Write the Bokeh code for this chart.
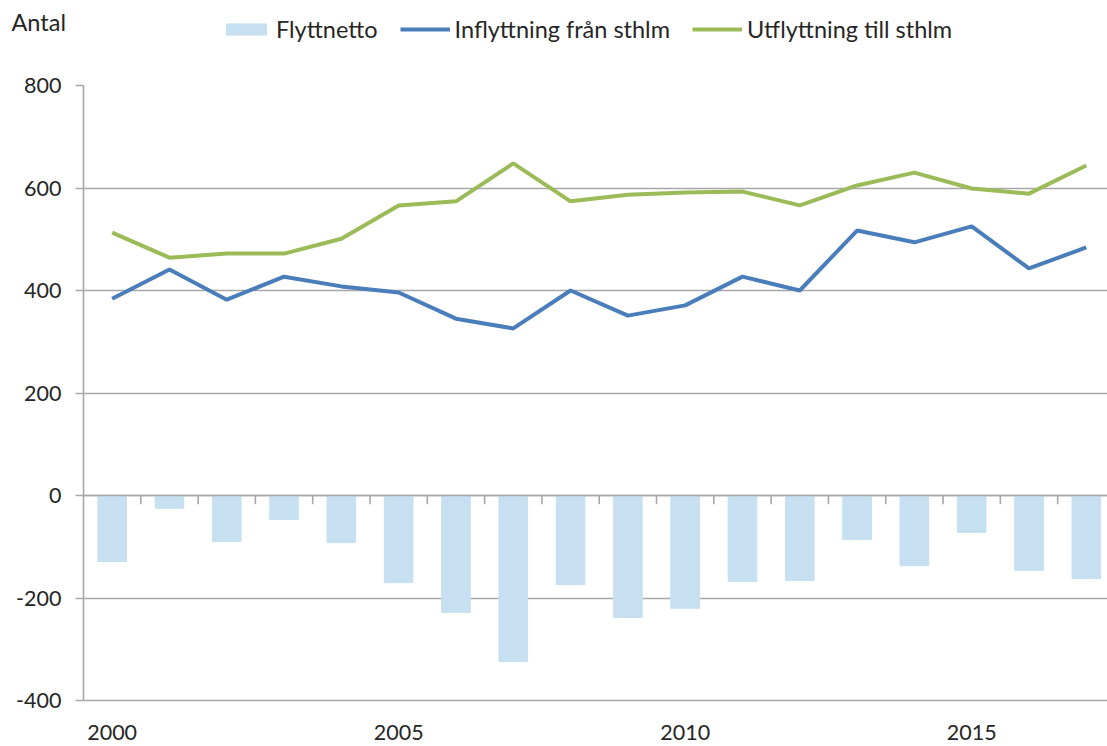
from bokeh.plotting import figure
from bokeh.layouts import column
from bokeh.models import Range1d, Legend, LegendItem, FixedTicker, ColumnDataSource, Span, PrintfTickFormatter, Label
from bokeh.embed import file_html
from bokeh.resources import INLINE

years = list(range(2000, 2018))
inflyttning = [384, 441, 382, 427, 408, 396, 345, 326, 400, 351, 371, 427, 400, 517, 494, 525, 443, 484]
utflyttning = [513, 464, 472, 472, 501, 566, 574, 648, 574, 587, 591, 593, 566, 605, 630, 599, 589, 644]
flyttnetto = [-129, -25, -90, -47, -92, -170, -228, -324, -174, -238, -220, -168, -166, -86, -137, -72, -146, -162]
y_ticks = [-400, -200, 0, 200, 400, 600, 800]
x_ticks = [2000, 2005, 2010, 2015]
series_names = ["Flyttnetto", "Inflyttning från sthlm", "Utflyttning till sthlm"]
unit_label = "Antal"

FONT = "Lato"
TXT = "#262626"
GRID = "#a8a8a8"
BAR = "#c6e0f1"
BLUE = "#4a7ebb"
GREEN = "#9bbb59"

W = 1107
TOP_H = 73
MAIN_H = 746 - TOP_H

src = ColumnDataSource(dict(x=years, inn=inflyttning, ut=utflyttning, net=flyttnetto))

# ---- header strip (unit label + legend) ----
top = figure(width=W, height=TOP_H, output_backend="svg", toolbar_location=None,
             x_range=Range1d(0, W), y_range=Range1d(0, TOP_H),
             x_axis_type=None, y_axis_type=None,
             min_border_left=0, min_border_right=0, min_border_top=0, min_border_bottom=0)
top.outline_line_color = None
top.background_fill_color = "white"
# legend proxies: same data, lying outside this strip's visible range
r_bar = top.vbar(x="x", top="net", bottom=0, width=0.5, source=src, fill_color=BAR, line_color=BAR)
r_in = top.line(x="x", y="inn", source=src, line_color=BLUE, line_width=4)
r_ut = top.line(x="x", y="ut", source=src, line_color=GREEN, line_width=4)

legend = Legend(items=[LegendItem(label=series_names[0], renderers=[r_bar]),
                       LegendItem(label=series_names[1], renderers=[r_in]),
                       LegendItem(label=series_names[2], renderers=[r_ut])],
                orientation="horizontal", location=(221, 30),
                label_text_font=FONT, label_text_font_size="23.5px", label_text_color=TXT,
                glyph_width=50, glyph_height=14, label_standoff=5, spacing=22,
                padding=0, margin=0, border_line_color=None, background_fill_alpha=0)
top.add_layout(legend, "center")
top.add_layout(Label(x=11, y=52, x_units="screen", y_units="screen", text=unit_label,
                     text_baseline="alphabetic", text_font=FONT, text_font_size="23.5px",
                     text_color=TXT))

# ---- main chart ----
p = figure(width=W, height=MAIN_H, output_backend="svg", toolbar_location=None,
           x_range=Range1d(1999.5, 2017.37), y_range=Range1d(-400, 800),
           min_border_left=83, min_border_top=12, min_border_bottom=46, min_border_right=0)
p.outline_line_color = None
p.background_fill_color = "white"

for fig in (top, p):
    try:
        fig.frame_align = False
    except Exception:
        pass

p.xgrid.grid_line_color = None
p.ygrid.grid_line_color = GRID
p.ygrid.grid_line_width = 1.6
p.ygrid.ticker = FixedTicker(ticks=y_ticks)

p.yaxis.ticker = FixedTicker(ticks=y_ticks)
p.yaxis.formatter = PrintfTickFormatter(format="%d")
p.yaxis.axis_line_color = GRID
p.yaxis.axis_line_width = 1.6
p.yaxis.major_tick_line_color = GRID
p.yaxis.major_tick_line_width = 1.6
p.yaxis.major_tick_in = 0
p.yaxis.major_tick_out = 8
p.yaxis.minor_tick_line_color = None
p.yaxis.major_label_text_font = FONT
p.yaxis.major_label_text_font_size = "21.5px"
p.yaxis.major_label_text_color = TXT
p.yaxis.major_label_standoff = 14

p.xaxis.ticker = FixedTicker(ticks=x_ticks)
p.xaxis.axis_line_color = GRID
p.xaxis.axis_line_width = 1.6
p.xaxis.major_tick_line_color = None
p.xaxis.minor_tick_line_color = None
p.xaxis.major_label_text_font = FONT
p.xaxis.major_label_text_font_size = "21.5px"
p.xaxis.major_label_text_color = TXT
p.xaxis.major_label_standoff = 18

p.vbar(x="x", top="net", bottom=0, width=0.5, source=src, fill_color=BAR, line_color=BAR)

p.add_layout(Span(location=0, dimension="width", line_color=GRID, line_width=1.6))
bounds = [y + 0.5 for y in years]
p.segment(x0=bounds, x1=bounds, y0=[0] * len(bounds), y1=[-17] * len(bounds),
          line_color=GRID, line_width=1.6)

p.line(x="x", y="inn", source=src, line_color=BLUE, line_width=4)
p.line(x="x", y="ut", source=src, line_color=GREEN, line_width=4)

layout = column(top, p, spacing=0)
open("out.html", "w").write(file_html(layout, INLINE))
